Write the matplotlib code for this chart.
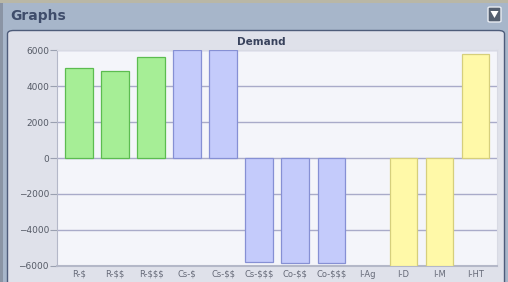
import matplotlib.pyplot as plt
from matplotlib.patches import FancyBboxPatch, Polygon, Rectangle

categories = ["R-\\$", "R-\\$\\$", "R-\\$\\$\\$", "Cs-\\$", "Cs-\\$\\$", "Cs-\\$\\$\\$",
              "Co-\\$\\$", "Co-\\$\\$\\$", "I-Ag", "I-D", "I-M", "I-HT"]
demand = [5000, 4850, 5600, 6000, 6000, -5780, -5830, -5850, 0, -6000, -6000, 5800]
groups = ["R", "R", "R", "C", "C", "C", "C", "C", "I", "I", "I", "I"]

fill = {"R": "#a6ee96", "C": "#c4cbfb", "I": "#fff9a8"}
edge = {"R": "#5cbc50", "C": "#8690d4", "I": "#d6cf7c"}

W, H = 508, 282
fig = plt.figure(figsize=(W / 100, H / 100), dpi=100)
fig.patch.set_facecolor("#a7b6ca")


def fx(px):
    return px / W


def fy(py):
    return 1 - py / H


# top strip and outer left frame
fig.patches.append(Rectangle((0, fy(3)), 1, fy(0) - fy(3), transform=fig.transFigure,
                             fc="#b9b7a6", ec="none", zorder=-3))
fig.patches.append(Rectangle((fx(0), 0), fx(3), fy(3), transform=fig.transFigure,
                             fc="#8a94a4", ec="none", zorder=-3))
# inner panel
fig.patches.append(FancyBboxPatch((fx(7.5), fy(300)), fx(497), fy(30.5) - fy(300),
                                  boxstyle="round,pad=0,rounding_size=0.012",
                                  transform=fig.transFigure, fc="#dfe1ea", ec="#4e5c7a",
                                  lw=1, zorder=-2))
# dropdown icon
fig.patches.append(FancyBboxPatch((fx(488), fy(22)), fx(13), fy(7) - fy(22),
                                  boxstyle="round,pad=0,rounding_size=0.004",
                                  transform=fig.transFigure, fc="#556070", ec="#e8ecf2",
                                  lw=1, zorder=-1))
fig.patches.append(Polygon([(fx(490.5), fy(11)), (fx(498.5), fy(11)), (fx(494.5), fy(18))],
                           closed=True, transform=fig.transFigure, fc="white", ec="none",
                           zorder=-0.5))

fig.text(fx(10), fy(16), "Graphs", fontsize=10, fontweight="bold", color="#3f4d6b",
         ha="left", va="center")
fig.text(fx(261), fy(42), "Demand", fontsize=7.5, fontweight="bold", color="#38425c",
         ha="center", va="center")

ax = fig.add_axes([fx(57.3), fy(265.7), fx(497) - fx(57.3), fy(50.3) - fy(265.7)])
ax.set_zorder(5)
ax.set_facecolor("#f4f5fa")
x = list(range(len(categories)))
ax.bar(x, demand, width=0.76,
       color=[fill[g] for g in groups], edgecolor=[edge[g] for g in groups],
       linewidth=[0.9 if v != 0 else 0 for v in demand], zorder=3)

ax.set_ylim(-6000, 6000)
ax.set_xlim(-0.6, len(categories) - 0.4)
ax.set_yticks(range(-6000, 6001, 2000))
ax.set_xticks(x)
ax.set_xticklabels(categories)
ax.grid(axis="y", color="#a9abc9", linewidth=1, zorder=1)
ax.tick_params(axis="y", length=5, width=0.8, color="#9aa0b0", labelsize=6.5,
               labelcolor="#555a66", pad=1)
ax.tick_params(axis="x", length=0, labelsize=6, labelcolor="#666a78", pad=3)
for side in ["top", "right"]:
    ax.spines[side].set_color("#d8dae4")
    ax.spines[side].set_linewidth(0.8)
ax.spines["left"].set_color("#b4b8c8")
ax.spines["bottom"].set_color("#b4b8c8")
ax.spines["bottom"].set_linewidth(1.5)

fig.savefig("out.png", dpi=100, facecolor=fig.get_facecolor())
